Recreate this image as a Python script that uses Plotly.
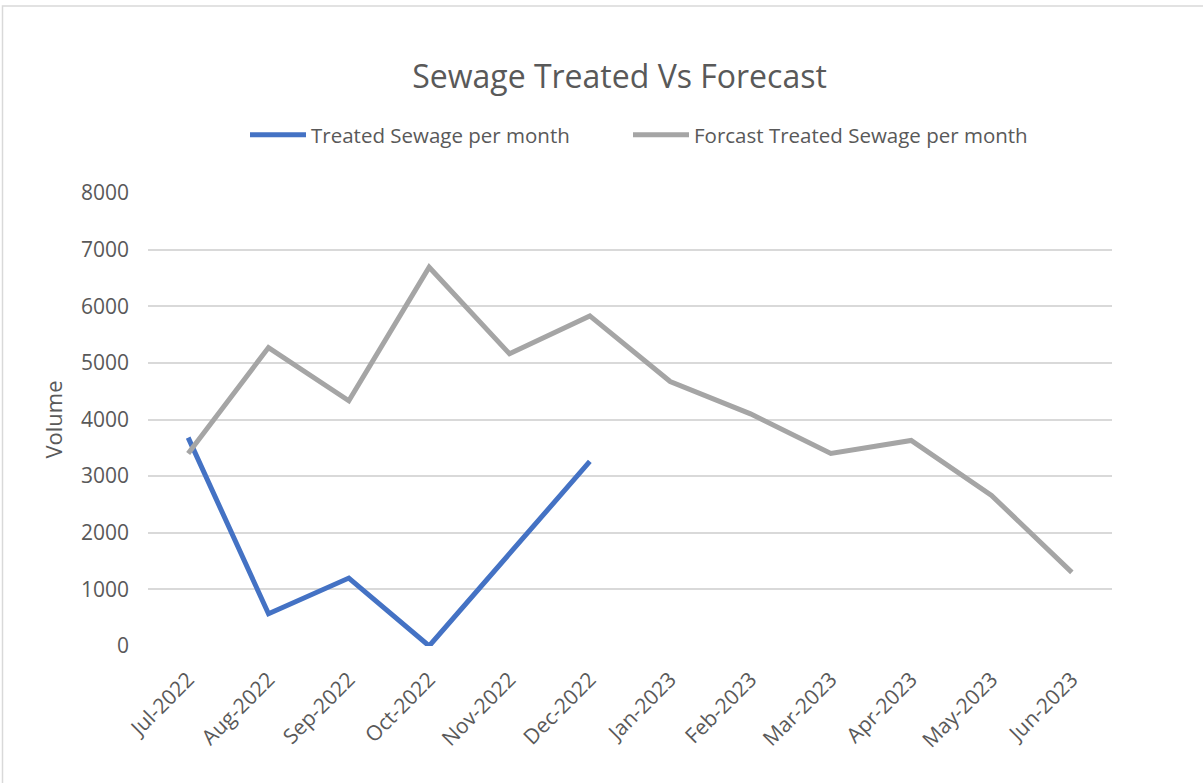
import plotly.graph_objects as go

months = ["Jul-2022", "Aug-2022", "Sep-2022", "Oct-2022", "Nov-2022", "Dec-2022",
          "Jan-2023", "Feb-2023", "Mar-2023", "Apr-2023", "May-2023", "Jun-2023"]
treated = [3680, 570, 1200, 0, 1630, 3260, None, None, None, None, None, None]
forecast = [3400, 5270, 4330, 6690, 5160, 5830, 4670, 4100, 3400, 3630, 2660, 1300]
y_ticks = [0, 1000, 2000, 3000, 4000, 5000, 6000, 7000, 8000]

TXT = "#595959"
FONT = "Open Sans"

fig = go.Figure()
fig.add_trace(go.Scatter(x=months, y=treated, mode="lines", name="Treated Sewage per month",
                         line=dict(color="#4472C4", width=5), connectgaps=False, legend="legend"))
fig.add_trace(go.Scatter(x=months, y=forecast, mode="lines", name="Forcast Treated Sewage per month",
                         line=dict(color="#A5A5A5", width=5), legend="legend2"))

PL, PR, PT, PB = 148, 1112, 193, 646
PW, PH = PR - PL, PB - PT

leg_common = dict(orientation="h", xanchor="left", y=(PB - 135) / PH, yanchor="middle", yref="paper",
                  font=dict(size=20.5, color=TXT, family=FONT), itemwidth=56,
                  bgcolor="rgba(0,0,0,0)")

fig.update_layout(
    width=1203, height=783,
    margin=dict(l=PL, r=1203 - PR, t=PT, b=783 - PB),
    paper_bgcolor="white", plot_bgcolor="white",
    font=dict(family=FONT, color=TXT, size=21),
    title=dict(text="Sewage Treated Vs Forecast", x=(619.5 - PL) / PW, xref="paper",
               y=1 - 77 / 783, yanchor="middle", xanchor="center",
               font=dict(size=32, color=TXT, family=FONT)),
    legend=dict(x=(245 - PL) / PW, **leg_common),
    legend2=dict(x=(628 - PL) / PW, **leg_common),
    showlegend=True,
    xaxis=dict(type="category", range=[-0.5, 11.5], tickangle=-45, showgrid=False,
               showline=False, ticks="", tickfont=dict(size=21, color=TXT),
               ticklabelstandoff=16),
    yaxis=dict(range=[0, 8000], tickvals=y_ticks, showgrid=True, gridcolor="#D9D9D9", gridwidth=1.5,
               zeroline=False, showline=False, ticks="", tickfont=dict(size=21, color=TXT),
               ticklabelstandoff=18,
               title=dict(text="Volume", font=dict(size=22, color=TXT), standoff=12)),
)

fig.add_shape(type="rect", xref="paper", yref="paper",
              x0=(2.5 - PL) / PW, x1=1.3, y0=-0.6, y1=(PB - 6) / PH,
              line=dict(color="#D9D9D9", width=1.5), fillcolor="rgba(0,0,0,0)", layer="below")

fig.write_html("out.html", config={"displayModeBar": False},
               post_script="document.body.style.margin='0';document.body.style.overflow='hidden';")
